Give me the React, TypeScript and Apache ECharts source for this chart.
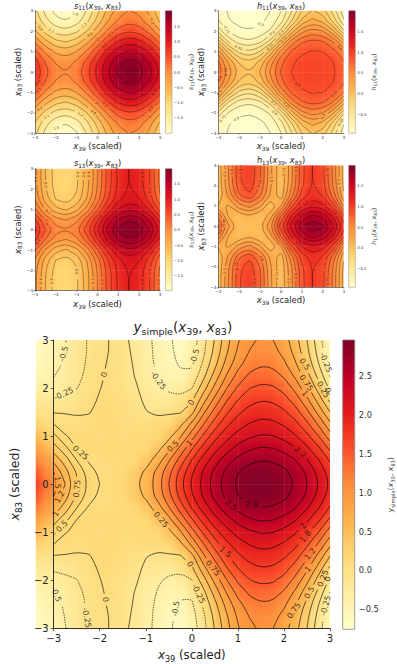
import React, { useEffect, useRef } from "react";
import * as echarts from "echarts";

const RAMP = ["#ffffcc", "#ffeda0", "#fed976", "#feb24c", "#fd8d3c", "#fc4e2a", "#e31a1c", "#bd0026", "#800026"];
const FONT = "DejaVu Sans";

// rows run y = 0 .. 3, columns x = -3 .. 3
const mainRows = [
  [1.70,1.25,.78,.45,.25,.16,.13,.20,.33,.62,1.00,1.42,1.78,2.08,2.38,2.62,2.80,2.93,2.98,2.97,2.88,2.72,2.50,2.24,1.96],
  [1.50,1.10,.73,.40,.19,.09,.08,.14,.29,.58,.93,1.33,1.72,2.03,2.32,2.56,2.74,2.87,2.92,2.90,2.81,2.67,2.47,2.18,1.89],
  [1.18,.88,.50,.22,.10,.12,.12,.12,.14,.35,.72,1.10,1.51,1.86,2.13,2.39,2.57,2.69,2.74,2.72,2.65,2.50,2.27,2.01,1.72],
  [.87,.57,.24,.18,.16,.14,.14,.15,.17,.17,.40,.81,1.21,1.59,1.91,2.13,2.33,2.46,2.52,2.50,2.42,2.26,2.04,1.79,1.43],
  [.58,.27,.18,.15,.14,.12,.14,.13,.14,.17,.18,.46,.89,1.29,1.65,1.91,2.09,2.21,2.27,2.26,2.17,2.02,1.81,1.50,1.11],
  [.25,.13,.09,.08,.09,.13,.14,.10,.08,.08,.12,.18,.56,.98,1.37,1.68,1.89,2.01,2.08,2.06,1.97,1.82,1.55,1.21,.81],
  [-.02,-.02,-.04,-.02,.06,.13,.14,.09,.01,-.04,-.03,-.02,.16,.69,1.10,1.45,1.70,1.84,1.90,1.88,1.79,1.60,1.31,.92,.50],
  [-.20,-.18,-.16,-.09,.03,.10,.11,.07,-.04,-.13,-.18,-.18,-.04,.40,.83,1.22,1.50,1.67,1.74,1.72,1.60,1.39,1.06,.65,.19],
  [-.38,-.31,-.26,-.14,-.01,.08,.09,.04,-.08,-.22,-.29,-.34,-.26,.14,.57,.98,1.29,1.49,1.56,1.54,1.42,1.17,.82,.39,-.06],
  [-.51,-.41,-.32,-.19,-.03,.05,.07,.00,-.12,-.26,-.37,-.45,-.44,-.07,.35,.76,1.09,1.30,1.38,1.36,1.22,.95,.60,.17,-.26],
  [-.60,-.46,-.36,-.21,-.05,.04,.05,-.01,-.14,-.30,-.42,-.53,-.54,-.21,.18,.58,.91,1.13,1.22,1.20,1.05,.78,.42,.01,-.39],
  [-.64,-.49,-.38,-.23,-.07,.02,.04,-.02,-.15,-.32,-.45,-.57,-.61,-.30,.07,.46,.79,1.01,1.10,1.08,.93,.66,.31,-.09,-.46],
  [-.66,-.51,-.39,-.23,-.07,.02,.03,-.03,-.16,-.33,-.46,-.59,-.64,-.34,.02,.40,.72,.94,1.04,1.01,.86,.59,.25,-.14,-.50],
];
const s11Rows = [
  [.86,.40,.09,0,.16,.52,1,1.48,1.84,2,1.91,1.60,1.14],
  [.74,.28,-.03,-.12,.04,.40,.88,1.36,1.72,1.88,1.79,1.48,1.02],
  [.40,-.06,-.37,-.46,-.30,.06,.54,1.02,1.38,1.54,1.45,1.14,.68],
  [-.07,-.53,-.84,-.93,-.77,-.41,.07,.55,.91,1.07,.98,.67,.21],
  [-.56,-1.02,-1.33,-1.42,-1.26,-.90,-.42,.06,.42,.58,.49,.18,-.28],
  [-.94,-1.40,-1.71,-1.80,-1.64,-1.28,-.80,-.32,.04,.20,.11,-.20,-.66],
  [-1.13,-1.59,-1.90,-1.99,-1.83,-1.47,-.99,-.51,-.15,.01,-.08,-.39,-.85],
];
const s13Rows = [
  [.86,.40,.09,0,.16,.52,1,1.48,1.84,2,1.91,1.60,1.14],
  [.64,.18,-.13,-.22,-.06,.30,.78,1.26,1.62,1.78,1.69,1.38,.92],
  [.23,-.23,-.54,-.63,-.47,-.11,.37,.85,1.21,1.37,1.28,.97,.51],
  [-.04,-.50,-.81,-.90,-.74,-.38,.10,.58,.94,1.10,1.01,.70,.24],
  [-.12,-.58,-.89,-.98,-.82,-.46,.02,.50,.86,1.02,.93,.62,.16],
  [-.14,-.60,-.91,-1,-.84,-.48,0,.48,.84,1,.91,.60,.14],
  [-.14,-.60,-.91,-1,-.84,-.48,0,.48,.84,1,.91,.60,.14],
];
const h11Rows = [
  [.70,.38,.09,0,.16,.48,.76,.90,.95,.96,.96,.92,.81],
  [.63,.27,-.03,-.12,.04,.38,.71,.88,.94,.95,.95,.90,.77],
  [.38,-.06,-.35,-.43,-.29,.06,.49,.77,.88,.91,.90,.81,.59],
  [-.07,-.49,-.69,-.73,-.65,-.39,.07,.50,.72,.79,.75,.58,.21],
  [-.51,-.77,-.87,-.89,-.85,-.72,-.40,.06,.40,.52,.45,.18,-.27],
  [-.74,-.89,-.94,-.95,-.93,-.86,-.66,-.31,.04,.20,.11,-.20,-.58],
  [-.81,-.92,-.96,-.96,-.95,-.90,-.76,-.47,-.15,.01,-.08,-.37,-.69],
];
const h13Rows = [
  [.80,.32,.05,.02,.11,.43,1.0,1.42,1.76,1.93,1.83,1.53,1.12],
  [.58,.125,.03,.135,.005,.24,.76,1.22,1.55,1.69,1.61,1.33,.93],
  [.17,.14,.385,.50,.33,.02,.295,.86,1.2,1.33,1.25,.99,.42],
  [.005,.35,.72,.87,.62,.265,.06,.54,.97,1.12,1.04,.68,.18],
  [.03,.44,.85,.99,.74,.32,.03,.43,.87,1.06,.96,.58,.11],
  [.04,.46,.88,1.02,.77,.335,.02,.41,.86,1.05,.94,.56,.09],
  [.04,.46,.88,1.02,.77,.335,.02,.41,.86,1.05,.94,.56,.09],
];

const mainLevels = [-.5,-.25,0,.25,.5,.75,1,1.25,1.5,1.75,2,2.25,2.5,2.75];
const s11Levels = [-1.8,-1.5,-1.2,-.9,-.6,-.3,0,.3,.6,.9,1.2,1.5,1.8];
const s13Levels = [-1.8,-1.6,-1.4,-1.2,-1,-.8,-.6,-.4,-.2,0,.2,.4,.6,.8,1,1.2,1.4,1.6,1.8];
const h11Levels = [-.9,-.75,-.6,-.45,-.3,-.15,0,.15,.3,.45,.6,.75,.9];
const h13Levels = [.15,.3,.45,.6,.75,.9,1.05,1.2,1.35,1.5,1.65,1.8];

// text, x, y, rotation
const mainLabels: [string, number, number, number][] = [
  ["-0.5",-2.8,2.7,75],["-0.25",-2.81,1.89,25],["0",-1.97,2.28,75],["-0.25",-.62,2.2,-55],["-0.5",.11,2.66,75],["0",0,1.69,60],
  ["0.25",-2.46,.61,-40],["0.5",-.4,.78,45],["1",-.06,.83,45],["2.2",2.35,.67,-40],["0.5",2.44,2.49,-55],["0.75",2.47,2.12,-55],
  ["1",2.46,1.87,-50],["-0.25",2.88,2.54,-70],["0.25",2.83,1.97,-60],["0",2.93,1.91,-70],["2.5",.84,-.45,-40],["2.8",1.31,-.44,-5],
  ["1.5",-2.93,.02,-85],["1.2",-2.9,-.28,60],["1",-2.95,-.62,60],["0.75",-2.5,-.09,85],["0.5",-2.88,-.86,45],["0.25",-.6,-.67,-50],
  ["1.5",.74,-1.4,-40],["2",2.37,-.86,55],["1.8",2.44,-1.04,50],["1.2",2.54,-1.45,50],["1",2.49,-1.76,50],["0.25",2.82,-1.97,70],
  ["0",2.94,-1.97,70],["0.5",2.52,-2.25,60],["0.75",2.18,-2.63,55],["-0.25",2.85,-2.51,75],["0",0,-1.62,-60],["0.75",.47,-1.75,-50],
  ["-0.25",.18,-2.25,-65],["-0.5",-.36,-2.59,80],["0",-1.93,-2.42,-80],["-0.25",-2.39,-2.76,-80],["-0.5",-2.91,-2.28,-70],
];
const s11Labels: [string, number, number, number][] = [
  ["-1.8",-1.08,2.79,-20],["-1.2",-2.12,2.25,-30],["-1.2",-.65,2.25,40],["-0.9",-2.79,2.14,-60],["-0.6",-.36,1.84,30],["0",.04,1.61,45],
  ["0.3",.36,2.25,45],["0.6",.36,1.32,45],["0.9",2.52,1.24,-45],["1.5",1.72,.91,-30],["-0.3",2.87,2.7,-80],["0.6",-2.92,-.47,50],
  ["0.3",-2.92,-.88,45],["1.8",1.32,-.59,0],["-0.6",-2.84,-1.78,30],["-1.2",-2.52,-2.1,30],["-1.8",-2.04,-2.64,20],["-1.2",-.97,-2.27,-35],
  ["-0.6",-.36,-2.1,-40],["0",-.04,-1.5,-50],["0.3",.36,-1.57,-45],["0.9",2.52,-.8,45],["0.3",2.84,-2.19,60],["0",2.87,-2.6,70],
];
const h11Labels: [string, number, number, number][] = [
  ["-0.9",-.96,2.33,-20],["-0.75",-2.67,2.02,-60],["-0.45",-2.07,1.16,-20],["-0.6",-.48,1.89,30],["-0.3",-.03,1.89,45],["-0.15",-.43,1.11,45],
  ["0.15",.32,1.44,45],["0.9",.72,-.69,-30],["0.75",2.55,-1.13,40],["0.6",2.84,1.16,-50],["0.75",-2.63,0,90],["0.6",-2.9,-.36,60],
  ["0.3",-2.82,-1.13,50],["-0.75",-2.82,-2.27,50],["-0.9",-2.19,-2.22,30],["-0.3",-.43,-1.5,-40],["0.15",.37,-1.61,-45],["-0.6",-.3,-2,-35],
  ["0.3",2.28,-2.6,60],["-0.45",2.76,-2.5,60],
];
const s13Labels: [string, number, number, number][] = [
  ["-0.6",-2.6,2.2,90],["-0.8",-.95,2.67,90],["-0.6",-.44,2.67,90],["-0.4",.36,2.67,90],["0",0,2.89,90],["0.8",.92,2.92,90],["0.8",2.49,2.67,90],
  ["0.6",2.78,1.93,90],["-0.2",-2.92,2.46,90],["-0.2",-2.6,.54,-30],["0.2",-2.76,.1,90],["0.4",-2.92,-.56,60],["1.4",1.08,.33,40],["1.2",2.28,.9,-40],
  ["1.2",.79,-.6,-30],["1.4",1.16,-.64,-10],["1",.52,-.85,60],["0.8",-.04,.66,45],["-0.4",-2.76,-2.52,90],["-0.8",-2.2,-2.52,90],["-0.8",-.65,-2.08,90],
  ["-0.2",-.23,-2.57,90],["0.2",.2,-2.57,90],["0.8",2.49,-2.52,90],["0.6",2.76,-2.08,90],["0.2",2.95,-2.57,90],["0.8",2.6,-1.1,50],
];
const h13Labels: [string, number, number, number][] = [
  ["0.6",-2.47,2.69,90],["0.3",-2.98,2.52,90],["0.9",-1.98,2.69,90],["0.75",-.91,2.11,70],["0.3",-.35,2.31,90],["0.15",.13,2.74,90],["0.6",.6,2.77,90],
  ["0.75",2.52,2.74,90],["0.3",2.84,2.15,90],["1.2",1.1,1.38,40],["1.5",.8,.75,30],["1.8",1.08,.31,20],["1.2",2.68,.89,-40],["0.45",-2.62,.23,90],
  ["0.6",-2.87,-.31,60],["0.6",-.54,-1.49,-60],["1.2",1.08,-.51,-20],["0.3",-2.87,-2.23,90],["0.75",-2.3,-1.9,90],["0.9",-1.12,-2.64,90],["0.15",-.2,-2.44,90],
  ["0.3",.29,-2.64,90],["0.6",.84,-2.39,90],["0.75",2.49,-2.64,90],["0.9",2.84,-2.02,90],
];

const axisTicks = [-3,-2,-1,0,1,2,3];
const barTicksMain = [-.5,0,.5,1,1.5,2,2.5];
const barTicksS = [-1.5,-1,-.5,0,.5,1,1.5];
const barTicksH = [-.5,0,.5,1,1.5];

type Panel = {
  name: string; sub: string; rows: number[][]; levels: number[]; labels: [string, number, number, number][];
  min: number; max: number; barTicks: number[];
  l: number; r: number; t: number; b: number; bl: number; br: number;
  small: boolean; titleY: number;
};

const PANELS: Panel[] = [
  { name: "s", sub: "11", rows: s11Rows, levels: s11Levels, labels: s11Labels, min: -2, max: 2, barTicks: barTicksS, l: 35, r: 160, t: 10.7, b: 133.3, bl: 165.3, br: 172, small: true, titleY: 0 },
  { name: "h", sub: "11", rows: h11Rows, levels: h11Levels, labels: h11Labels, min: -.956, max: 1.996, barTicks: barTicksH, l: 218.3, r: 343.7, t: 10.7, b: 133.3, bl: 348.7, br: 355.3, small: true, titleY: 0 },
  { name: "s", sub: "13", rows: s13Rows, levels: s13Levels, labels: s13Labels, min: -1.99, max: 1.99, barTicks: barTicksS, l: 35, r: 160, t: 168.7, b: 290.7, bl: 165.3, br: 172, small: true, titleY: 157.5 },
  { name: "h", sub: "13", rows: h13Rows, levels: h13Levels, labels: h13Labels, min: -.96, max: 2, barTicks: barTicksH, l: 218.3, r: 343.7, t: 165.3, b: 287.3, bl: 348.7, br: 355.3, small: true, titleY: 154.5 },
  { name: "y", sub: "simple", rows: mainRows, levels: mainLevels, labels: mainLabels, min: -.758, max: 2.97, barTicks: barTicksMain, l: 35.7, r: 330, t: 340, b: 629.3, bl: 342.7, br: 357.3, small: false, titleY: 318 },
];

const fullRows = (half: number[][]) => [...half.slice(1).reverse(), ...half];

function traceLevel(xs: number[], ys: number[], z: number[][], lv: number) {
  const nx = xs.length, ny = ys.length;
  const pt = new Map<string, [number, number]>();
  const adj = new Map<string, string[]>();
  const hk = (i: number, j: number) => {
    const k = `h${i},${j}`;
    if (!pt.has(k)) { const t = (lv - z[j][i]) / (z[j][i + 1] - z[j][i]); pt.set(k, [xs[i] + t * (xs[i + 1] - xs[i]), ys[j]]); }
    return k;
  };
  const vk = (i: number, j: number) => {
    const k = `v${i},${j}`;
    if (!pt.has(k)) { const t = (lv - z[j][i]) / (z[j + 1][i] - z[j][i]); pt.set(k, [xs[i], ys[j] + t * (ys[j + 1] - ys[j])]); }
    return k;
  };
  const link = (a: string, b: string) => {
    if (!adj.has(a)) adj.set(a, []);
    if (!adj.has(b)) adj.set(b, []);
    adj.get(a)!.push(b); adj.get(b)!.push(a);
  };
  for (let j = 0; j < ny - 1; j++) for (let i = 0; i < nx - 1; i++) {
    const a = z[j][i] >= lv, b = z[j][i + 1] >= lv, c = z[j + 1][i + 1] >= lv, d = z[j + 1][i] >= lv;
    const code = (a ? 1 : 0) | (b ? 2 : 0) | (c ? 4 : 0) | (d ? 8 : 0);
    if (code === 0 || code === 15) continue;
    const B = () => hk(i, j), R = () => vk(i + 1, j), T = () => hk(i, j + 1), L = () => vk(i, j);
    if (code === 5 || code === 10) {
      const mid = (z[j][i] + z[j][i + 1] + z[j + 1][i + 1] + z[j + 1][i]) / 4 >= lv;
      if ((code === 5) === mid) { link(L(), T()); link(B(), R()); } else { link(L(), B()); link(T(), R()); }
      continue;
    }
    const crossings: string[] = [];
    if (a !== b) crossings.push(B());
    if (b !== c) crossings.push(R());
    if (c !== d) crossings.push(T());
    if (d !== a) crossings.push(L());
    link(crossings[0], crossings[1]);
  }
  const seen = new Set<string>();
  const lines: [number, number][][] = [];
  const walk = (start: string) => {
    const path = [start]; seen.add(start);
    let cur = start;
    for (;;) {
      const nxt = (adj.get(cur) || []).find((n) => !seen.has(n));
      if (!nxt) break;
      seen.add(nxt); path.push(nxt); cur = nxt;
    }
    const closed = path.length > 3 && (adj.get(cur) || []).includes(start);
    const pts = path.map((k) => pt.get(k)!);
    if (closed) pts.push(pts[0]);
    lines.push(pts);
  };
  for (const [k, n] of adj) if (n.length === 1 && !seen.has(k)) walk(k);
  for (const k of adj.keys()) if (!seen.has(k)) walk(k);
  return lines.map((p) => rounded(rounded(p)));
}

function rounded(p: [number, number][]) {
  if (p.length < 3) return p;
  const out: [number, number][] = [p[0]];
  for (let i = 0; i < p.length - 1; i++) {
    const [a, b] = [p[i], p[i + 1]];
    out.push([a[0] * .75 + b[0] * .25, a[1] * .75 + b[1] * .25]);
    out.push([a[0] * .25 + b[0] * .75, a[1] * .25 + b[1] * .75]);
  }
  out.push(p[p.length - 1]);
  return out;
}

const nearestLevel = (levels: number[], t: string) => {
  const v = parseFloat(t);
  return levels.reduce((m, l) => (Math.abs(l - v) < Math.abs(m - v) ? l : m), levels[0]);
};

function buildContours(p: Panel) {
  const rows = fullRows(p.rows);
  const n = rows.length, m = rows[0].length;
  const xs = rows[0].map((_, i) => -3 + (6 * i) / (m - 1));
  const ys = rows.map((_, j) => -3 + (6 * j) / (n - 1));
  const pxX = (p.r - p.l) / 6, pxY = (p.b - p.t) / 6;
  const fs = p.small ? 3.6 : 8;
  const traced = new Map<number, [number, number][][]>();
  p.levels.forEach((lv) => traced.set(lv, traceLevel(xs, ys, rows, lv)));
  const placed = p.labels.map(([text, x, y, rot]) => {
    const lv = nearestLevel(p.levels, text);
    let best: [number, number] = [x, y], bd = p.small ? 25 : 18;
    (traced.get(lv) || []).forEach((ln) => ln.forEach((q) => {
      const d = Math.hypot((q[0] - x) * pxX, (q[1] - y) * pxY);
      if (d < bd) { bd = d; best = q; }
    }));
    const margin = text.length * fs * .3 + (p.small ? .6 : 1.5);
    const bx = Math.min(3 - .05, Math.max(-3 + .05, best[0]));
    const by = Math.min(3 - .05, Math.max(-3 + .05, best[1]));
    return { text, x: bx, y: by, rot, lv, gap: margin, cx: best[0], cy: best[1] };
  });
  const solid: any[] = [], dashed: any[] = [];
  p.levels.forEach((lv) => {
    const dst = lv < 0 && !p.small ? dashed : solid;
    const gaps = placed.filter((g) => g.lv === lv);
    (traced.get(lv) || []).forEach((ln) => {
      ln.forEach((q) => {
        const hidden = gaps.some((g) => Math.hypot((q[0] - g.cx) * pxX, (q[1] - g.cy) * pxY) < g.gap);
        dst.push(hidden ? ["-", "-"] : q);
      });
      dst.push(["-", "-"]);
    });
  });
  return { solid, dashed, placed };
}

function mathRich(fs: number, color: string) {
  const sub = Math.round(fs * .7 * 10) / 10;
  const lh = fs * 1.35;
  return {
    v: { fontFamily: FONT, fontStyle: "italic", fontWeight: "normal", fontSize: fs, color, lineHeight: lh, verticalAlign: "middle" },
    n: { fontFamily: FONT, fontWeight: "normal", fontSize: fs, color, lineHeight: lh, verticalAlign: "middle" },
    s: { fontFamily: FONT, fontWeight: "normal", fontSize: sub, color, lineHeight: lh, verticalAlign: "bottom" },
  };
}
const fnText = (p: Panel) => `{v|${p.name}}{s|${p.sub}}{n|(}{v|x}{s|39}{n|, }{v|x}{s|83}{n|)}`;
const xName = (t: string) => `{v|x}{s|${t}}{n| (scaled)}`;
const minus = (v: number) => String(v).replace("-", "\u2212");
const minusFixed = (v: number) => v.toFixed(1).replace("-", "\u2212");

function ramp(x0: number, y0: number, x1: number, y1: number) {
  return new echarts.graphic.LinearGradient(x0, y0, x1, y1, RAMP.map((color, i) => ({ offset: i / (RAMP.length - 1), color })));
}

function heatOption() {
  const grid: any[] = [], xAxis: any[] = [], yAxis: any[] = [], series: any[] = [], visualMap: any[] = [];
  PANELS.forEach((p, k) => {
    const rows = fullRows(p.rows);
    const n = rows.length, m = rows[0].length;
    const cw = (p.r - p.l) / (m - 1), ch = (p.b - p.t) / (n - 1);
    grid.push({ left: p.l - cw / 2, top: p.t - ch / 2, width: p.r - p.l + cw, height: p.b - p.t + ch, show: false });
    xAxis.push({ type: "category", gridIndex: k, show: false, data: rows[0].map((_, i) => i) });
    yAxis.push({ type: "category", gridIndex: k, show: false, data: rows.map((_, j) => j) });
    const data: number[][] = [];
    rows.forEach((r, j) => r.forEach((z, i) => data.push([i, j, z])));
    series.push({ type: "heatmap", xAxisIndex: k, yAxisIndex: k, data, silent: true, progressive: 0 });
    visualMap.push({ show: false, seriesIndex: k, dimension: 2, min: p.min, max: p.max, inRange: { color: RAMP } });
  });
  return { animation: false, grid, xAxis, yAxis, series, visualMap };
}

function topOption() {
  const grid: any[] = [], xAxis: any[] = [], yAxis: any[] = [], series: any[] = [], title: any[] = [];
  PANELS.forEach((p) => {
    const tick = p.small ? 4 : 10;
    const axisColor = "#333";
    const gi = grid.length;
    grid.push({ left: p.l, top: p.t, width: p.r - p.l, height: p.b - p.t, show: false });
    const common = {
      type: "value", gridIndex: gi, min: -3, max: 3, interval: 1,
      axisLine: { show: true, onZero: false, lineStyle: { color: axisColor, width: p.small ? .6 : 1 } },
      axisTick: { show: true, length: p.small ? 1.5 : 3, lineStyle: { color: axisColor, width: p.small ? .4 : .8 } },
      axisLabel: { fontFamily: FONT, fontSize: tick, color: "#222", margin: p.small ? 2 : 5, formatter: minus, customValues: axisTicks },
      splitLine: { show: true, lineStyle: { color: "rgba(255,255,255,0.13)", width: .6 } },
      nameLocation: "middle",
    };
    xAxis.push({ ...common, name: xName("39"), nameGap: p.small ? 7.5 : 19, nameTextStyle: { rich: mathRich(p.small ? 8.4 : 11.7, "#222") } });
    yAxis.push({ ...common, name: xName("83"), nameGap: p.small ? 6 : 26, nameRotate: 90, nameTextStyle: { rich: mathRich(p.small ? 8.4 : 12.6, "#222") } });
    const { solid, dashed, placed } = buildContours(p);
    const lw = p.small ? .45 : .85;
    const lineBase = { type: "line", xAxisIndex: gi, yAxisIndex: gi, showSymbol: false, symbol: "none", silent: true, connectNulls: false, clip: true, smooth: false };
    series.push({ ...lineBase, data: solid, lineStyle: { color: "rgba(0,0,0,0.75)", width: lw } });
    series.push({ ...lineBase, data: dashed, lineStyle: { color: "rgba(0,0,0,0.75)", width: lw, type: [1.5, 1] } });
    series.push({
      type: "scatter", xAxisIndex: gi, yAxisIndex: gi, silent: true, symbol: "circle", symbolSize: 1, itemStyle: { color: "transparent" },
      data: placed.map((l) => ({
        value: [l.x, l.y],
        label: { show: true, position: "inside", formatter: l.text, rotate: l.rot, fontFamily: FONT, fontSize: p.small ? 3.6 : 8, color: "#111", align: "center", verticalAlign: "middle" },
      })),
    });
    title.push({
      text: fnText(p), left: (p.l + p.r) / 2, top: p.titleY, textAlign: "center", padding: 0,
      textStyle: { fontWeight: "normal", rich: mathRich(p.small ? 8.2 : 13.5, "#222") },
    });
    // colour bar
    const bi = grid.length;
    grid.push({ left: p.bl, top: p.t, width: p.br - p.bl, height: p.b - p.t, show: false });
    xAxis.push({ type: "value", gridIndex: bi, min: 0, max: 1, show: false });
    yAxis.push({
      type: "value", gridIndex: bi, position: "right", min: p.min, max: p.max,
      axisLine: { show: false }, splitLine: { show: false },
      axisTick: { show: true, length: p.small ? 1.5 : 2.5, customValues: p.barTicks, lineStyle: { color: "#444", width: p.small ? .4 : .7 } },
      axisLabel: { fontFamily: FONT, fontSize: p.small ? 3.8 : 8.3, color: "#333", margin: p.small ? 2 : 4, formatter: minusFixed, customValues: p.barTicks },
      name: fnText(p), nameLocation: "middle", nameRotate: 90, nameGap: p.small ? 11 : 31,
      nameTextStyle: { rich: mathRich(p.small ? 6.3 : 7.6, "#444") },
    });
    series.push({
      type: "custom", xAxisIndex: bi, yAxisIndex: bi, silent: true, data: [[0, p.min, 1, p.max]], clip: false,
      renderItem: (_: any, api: any) => {
        const a = api.coord([api.value(0), api.value(1)]);
        const b = api.coord([api.value(2), api.value(3)]);
        return { type: "rect", shape: { x: a[0], y: b[1], width: b[0] - a[0], height: a[1] - b[1] }, style: { fill: ramp(0, 1, 0, 0), stroke: "#888", lineWidth: p.small ? .5 : .8 } };
      },
    });
  });
  return { animation: false, grid, xAxis, yAxis, series, title };
}

const clipPath = PANELS.map((p) => `M${p.l} ${p.t}H${p.r}V${p.b}H${p.l}Z`).join(" ");

export default function App() {
  const heatRef = useRef<HTMLDivElement>(null);
  const topRef = useRef<HTMLDivElement>(null);
  useEffect(() => {
    document.body.style.margin = "0";
    document.body.style.background = "#fff";
    const heat = echarts.init(heatRef.current!, undefined, { renderer: "svg", width: 397, height: 664 });
    const top = echarts.init(topRef.current!, undefined, { renderer: "svg", width: 397, height: 664 });
    heat.setOption(heatOption());
    top.setOption(topOption());
    return () => { heat.dispose(); top.dispose(); };
  }, []);
  return (
    <div style={{ position: "relative", width: 397, height: 664, overflow: "hidden", background: "#fff" }}>
      <div style={{ position: "absolute", left: 0, top: 0, width: 397, height: 664, clipPath: `path("${clipPath}")` }}>
        <div ref={heatRef} style={{ position: "absolute", left: 0, top: 0, width: 397, height: 664, filter: "blur(3.5px)" }} />
      </div>
      <div ref={topRef} style={{ position: "absolute", left: 0, top: 0, width: 397, height: 664 }} />
    </div>
  );
}
